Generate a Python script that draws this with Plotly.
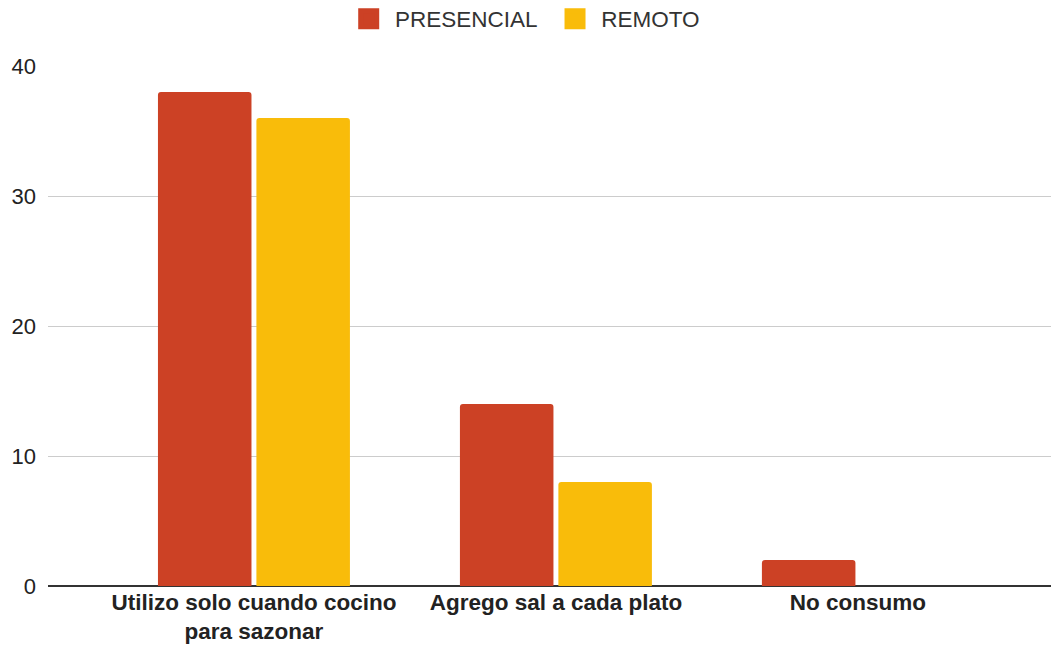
import plotly.graph_objects as go

categories = ["Utilizo solo cuando cocino<br>para sazonar", "Agrego sal a cada plato", "No consumo"]
presencial = [38, 14, 2]
remoto = [36, 8, 0]
y_ticks = [0, 10, 20, 30, 40]
series_names = ["PRESENCIAL", "REMOTO"]
series_colors = ["#cc4125", "#f9bc0a"]

FONT = "Arial, Liberation Sans, sans-serif"
NB = "\u00a0"

fig = go.Figure()
for name, vals, col in zip(series_names, [presencial, remoto], series_colors):
    fig.add_trace(go.Bar(name=name, x=categories, y=vals, marker_color=col,
                         marker_line_width=0, showlegend=False))
# legend proxies (bigger square symbols)
legend_labels = [NB + series_names[0] + NB * 2, NB + series_names[1]]
for label, col in zip(legend_labels, series_colors):
    fig.add_trace(go.Scatter(name=label, x=[None], y=[None], mode="markers",
                             marker=dict(symbol="square", size=16, color=col,
                                         line=dict(color=col, width=5)),
                             showlegend=True, hoverinfo="skip"))

fig.update_layout(
    width=1051, height=637,
    margin=dict(l=40, r=0, t=58, b=59),
    paper_bgcolor="white", plot_bgcolor="white",
    barmode="group", bargap=0.348, bargroupgap=0.05, barcornerradius=3,
    font=dict(family=FONT, size=22, color="#333333"),
    legend=dict(orientation="h", x=0.4735, xanchor="center",
                yref="container", y=1 - 11 / 637, yanchor="middle",
                font=dict(size=22.5, color="#333333"), itemsizing="trace",
                traceorder="normal"),
    showlegend=True,
)
fig.update_xaxes(range=[-0.682, 2.666], showgrid=False, showline=False, ticks="",
                 ticklabelstandoff=0, automargin=False,
                 tickfont=dict(size=22.5, color="#222222", family=FONT, weight="bold"))
fig.update_yaxes(range=[0, 40], tickvals=y_ticks, showgrid=True, gridcolor="#cccccc", gridwidth=1,
                 zeroline=True, zerolinecolor="#333333", zerolinewidth=2,
                 showline=False, ticks="", ticklabelstandoff=11, automargin=False,
                 tickfont=dict(size=22, color="#222222"))

fig.write_html("out.html")
